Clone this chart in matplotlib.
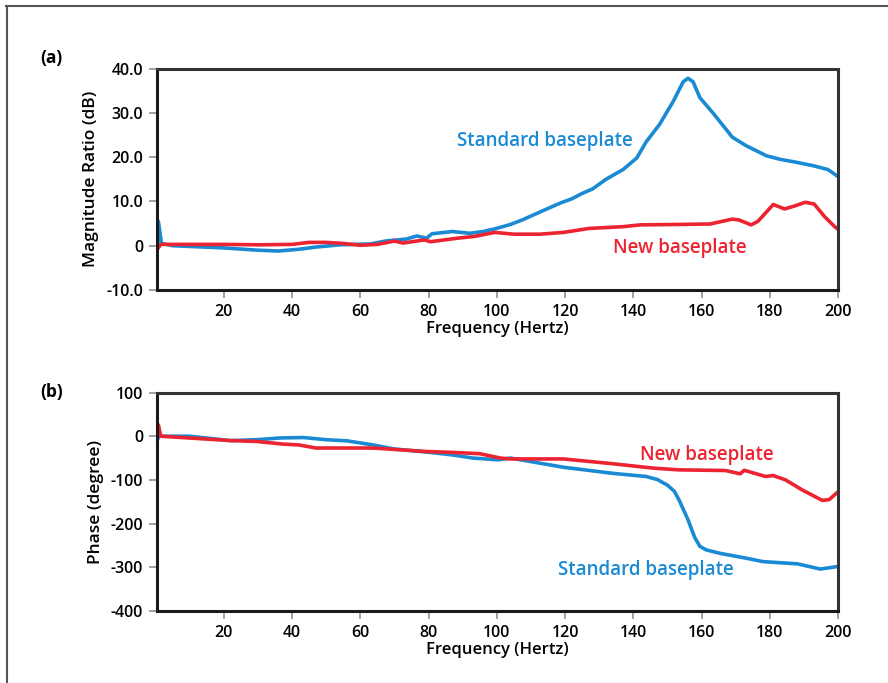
import numpy as np
import matplotlib.pyplot as plt
from matplotlib.lines import Line2D

plt.rcParams['font.family'] = ['Open Sans', 'DejaVu Sans']

BLUE = '#1a8ad4'
RED = '#ec2330'

# (a) magnitude ratio, dB
mag_std_f = [0.5, 0.8, 1.7, 5, 20, 29.6, 36, 42, 47, 54, 63, 67.7, 73.5, 76.5, 79.4, 81, 87, 92, 96,
             99.4, 104, 107.7, 112.6, 118.5, 122, 125, 128, 132, 137, 141, 143.8, 147.7, 151.7, 154.6,
             156, 157.5, 159.5, 163.4, 169, 173, 179, 183, 188, 193, 197, 200]
mag_std = [0.0, 5.5, 0.5, 0.0, -0.5, -1.0, -1.2, -0.8, -0.3, 0.2, 0.4, 1.1, 1.5, 2.2, 1.7, 2.7, 3.2, 2.8, 3.2,
           3.8, 4.8, 5.9, 7.6, 9.6, 10.6, 11.8, 12.8, 15.0, 17.2, 19.8, 23.5, 27.4, 32.6, 37.0,
           37.8, 37.0, 33.4, 29.9, 24.5, 22.6, 20.3, 19.5, 18.8, 18.0, 17.2, 15.6]
mag_new_f = [0.5, 1.5, 20, 30, 40, 45, 50, 55, 60, 65, 70, 72.5, 78.7, 80.6, 88.5, 93.4, 99.4,
             105, 112.6, 119.5, 127, 137, 142, 153.6, 162.5, 169, 171, 174.5, 176.5, 181, 184.3,
             187, 190.4, 193, 196, 199, 200]
mag_new = [-0.8, 0.3, 0.3, 0.2, 0.3, 0.75, 0.75, 0.5, 0.1, 0.3, 1.05, 0.6, 1.3, 0.9, 1.7, 2.1, 3.0,
           2.6, 2.6, 3.0, 3.9, 4.3, 4.7, 4.8, 4.9, 6.0, 5.8, 4.7, 5.5, 9.3, 8.3,
           8.9, 9.8, 9.4, 6.6, 4.3, 3.7]

# (b) phase, degree
ph_std_f = [0.5, 1.0, 10, 21.8, 29.6, 36.4, 43.3, 50, 56, 63.8, 69.7, 80.4, 87.2, 93, 100.4, 104,
            119.5, 134, 143.6, 147, 150, 152, 153.4, 156, 158, 159.5, 161.3, 165.4, 173, 178, 188,
            194.8, 200]
ph_std = [-8, 0, 0, -10, -8, -4, -3, -8, -10.5, -20, -29, -37, -43, -50, -54, -50,
          -71, -85, -92, -99, -112, -126, -146, -191, -232, -252, -260, -268, -279, -287, -292,
          -304, -298]
ph_new_f = [0.5, 0.8, 1.5, 22, 29.6, 37.3, 42, 47, 54, 63.8, 71.5, 79.4, 87, 95, 101, 104,
            119.5, 134, 145.8, 153.4, 167, 171.3, 172.5, 178.7, 181, 184.6, 189.5, 195.4, 197.4, 200]
ph_new = [0, 26, 0, -10, -12, -18, -20, -27, -27, -27, -31, -35, -37, -40, -50, -52,
          -52, -63, -73, -77, -78.5, -86, -78, -92, -90, -100, -123, -147, -145, -127]

x_ticks = [20, 40, 60, 80, 100, 120, 140, 160, 180, 200]

fig = plt.figure(figsize=(8.88, 6.83), dpi=100)
ax1 = fig.add_axes([0.1768, 0.5754, 0.767, 0.3243])
ax2 = fig.add_axes([0.1768, 0.1054, 0.767, 0.3199])

# outer frame lines (top and left only)
fig.add_artist(Line2D([0.007, 1.0], [0.991, 0.991], color='#555555', lw=1.5, transform=fig.transFigure))
fig.add_artist(Line2D([0.008, 0.008], [0.0, 0.991], color='#555555', lw=1.5, transform=fig.transFigure))

line_kw = dict(lw=2.6, solid_joinstyle='round', solid_capstyle='round')
ax1.plot(mag_std_f, mag_std, color=BLUE, **line_kw)
ax1.plot(mag_new_f, mag_new, color=RED, **line_kw)
ax2.plot(ph_std_f, ph_std, color=BLUE, **line_kw)
ax2.plot(ph_new_f, ph_new, color=RED, **line_kw)

for ax in (ax1, ax2):
    ax.set_xlim(0.4, 200)
    ax.set_xticks(x_ticks)
    ax.set_xticklabels([str(t) for t in x_ticks])
    ax.tick_params(direction='out', length=6, width=1.3, color='#999999',
                   labelsize=11.5, pad=4)
    for lab in ax.get_xticklabels() + ax.get_yticklabels():
        lab.set_fontweight('semibold')
    for side in ('left', 'bottom'):
        ax.spines[side].set_linewidth(2.2)
        ax.spines[side].set_color('#1a1a1a')
    for side in ('top', 'right'):
        ax.spines[side].set_linewidth(2.2)
        ax.spines[side].set_color('#333333')
    ax.set_xlabel('Frequency (Hertz)', fontsize=12, fontweight='semibold', labelpad=1)

ax1.set_ylim(-10, 40)
ax1.set_yticks([-10, 0, 10, 20, 30, 40])
ax1.set_yticklabels(['-10.0', '0', '10.0', '20.0', '30.0', '40.0'], fontweight='semibold')
ax1.set_ylabel('Magnitude Ratio (dB)', fontsize=12.5, fontweight='semibold', labelpad=5)

ax2.set_ylim(-400, 100)
ax2.set_yticks([-400, -300, -200, -100, 0, 100])
ax2.set_yticklabels(['-400', '-300', '-200', '-100', '0', '100'], fontweight='semibold')
ax2.set_ylabel('Phase (degree)', fontsize=12.5, fontweight='semibold', labelpad=5)

ax1.text(114, 23.7, 'Standard baseplate', color=BLUE, fontsize=13.5, fontweight='semibold',
         ha='center', va='center')
ax1.text(153.7, -0.6, 'New baseplate', color=RED, fontsize=13.5, fontweight='semibold',
         ha='center', va='center')
ax2.text(161.6, -43, 'New baseplate', color=RED, fontsize=13.5, fontweight='semibold',
         ha='center', va='center')
ax2.text(143.7, -306, 'Standard baseplate', color=BLUE, fontsize=13.5, fontweight='semibold',
         ha='center', va='center')

fig.text(0.045, 0.915, '(a)', fontsize=12.5, fontweight='bold', ha='left', va='center')
fig.text(0.045, 0.426, '(b)', fontsize=12.5, fontweight='bold', ha='left', va='center')

fig.savefig('out.png', dpi=100)
